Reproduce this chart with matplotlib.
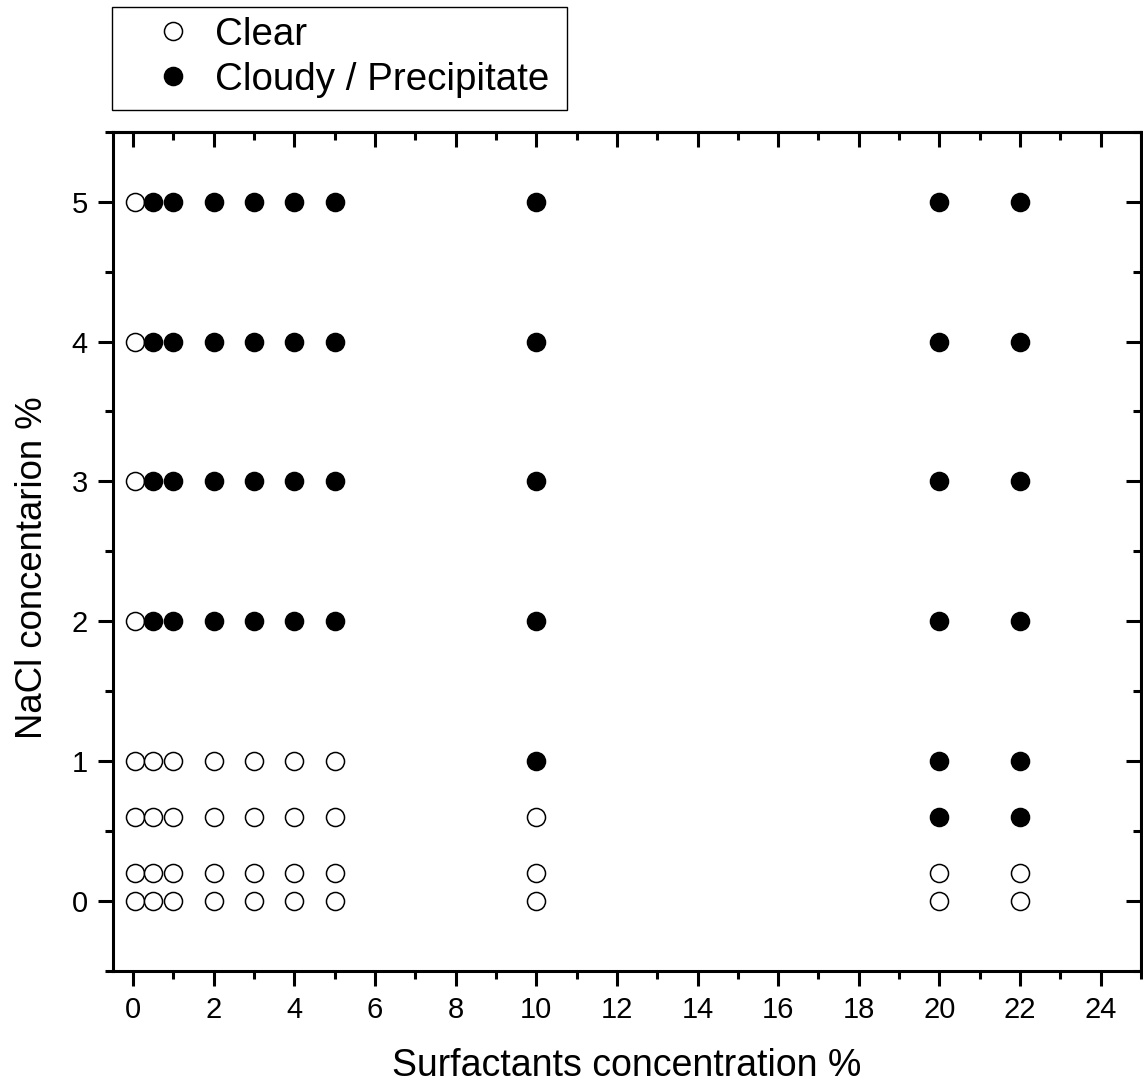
import matplotlib
matplotlib.use("Agg")
import matplotlib.pyplot as plt
from matplotlib.ticker import MultipleLocator
from matplotlib.patches import Rectangle

plt.rcParams['font.family'] = ['Liberation Sans', 'DejaVu Sans']

# Data: surfactant concentrations (x) and NaCl levels observed per state
surfactant = [0.05, 0.5, 1, 2, 3, 4, 5, 10, 20, 22]
clear_levels = [
    [0, 0.2, 0.6, 1, 2, 3, 4, 5],  # 0.05
    [0, 0.2, 0.6, 1],              # 0.5
    [0, 0.2, 0.6, 1],              # 1
    [0, 0.2, 0.6, 1],              # 2
    [0, 0.2, 0.6, 1],              # 3
    [0, 0.2, 0.6, 1],              # 4
    [0, 0.2, 0.6, 1],              # 5
    [0, 0.2, 0.6],                 # 10
    [0, 0.2],                      # 20
    [0, 0.2],                      # 22
]
cloudy_levels = [
    [],                            # 0.05
    [2, 3, 4, 5],                  # 0.5
    [2, 3, 4, 5],                  # 1
    [2, 3, 4, 5],                  # 2
    [2, 3, 4, 5],                  # 3
    [2, 3, 4, 5],                  # 4
    [2, 3, 4, 5],                  # 5
    [1, 2, 3, 4, 5],               # 10
    [0.6, 1, 2, 3, 4, 5],          # 20
    [0.6, 1, 2, 3, 4, 5],          # 22
]
x_ticks = [0, 2, 4, 6, 8, 10, 12, 14, 16, 18, 20, 22, 24]
y_ticks = [0, 1, 2, 3, 4, 5]

clear_x = [s for s, lv in zip(surfactant, clear_levels) for _ in lv]
clear_y = [v for lv in clear_levels for v in lv]
cloudy_x = [s for s, lv in zip(surfactant, cloudy_levels) for _ in lv]
cloudy_y = [v for lv in cloudy_levels for v in lv]

W, H = 1143, 1087
fig = plt.figure(figsize=(W / 100, H / 100), dpi=100)
ax = fig.add_axes([113 / W, 1 - 971 / H, (1141 - 113) / W, (971 - 131.7) / H])

ax.plot(clear_x, clear_y, linestyle='none', marker='o', ms=13,
        mfc='white', mec='black', mew=1.1, label='Clear', zorder=3)
ax.plot(cloudy_x, cloudy_y, linestyle='none', marker='o', ms=13,
        mfc='black', mec='black', mew=1.1, label='Cloudy / Precipitate', zorder=4)

ax.set_xlim(-0.5, 25)
ax.set_ylim(-0.5, 5.5)
ax.set_xticks(x_ticks)
ax.set_yticks(y_ticks)
ax.xaxis.set_minor_locator(MultipleLocator(1))
ax.yaxis.set_minor_locator(MultipleLocator(0.5))

for sp in ax.spines.values():
    sp.set_linewidth(2.2)

ax.tick_params(axis='both', which='major', length=11, width=2.2, labelsize=21, pad=7)
ax.tick_params(axis='both', which='minor', length=5.5, width=2.2)
ax.tick_params(axis='x', which='both', direction='out', bottom=True)
ax.tick_params(axis='y', which='both', direction='out', left=True)

# mirrored inward ticks on top and right
axt = ax.secondary_xaxis('top')
axt.set_xticks(x_ticks)
axt.xaxis.set_minor_locator(MultipleLocator(1))
axt.tick_params(which='major', direction='in', length=11, width=2.2, labeltop=False)
axt.tick_params(which='minor', direction='in', length=5.5, width=2.2)
axt.spines['top'].set_linewidth(2.2)
axr = ax.secondary_yaxis('right')
axr.set_yticks(y_ticks)
axr.yaxis.set_minor_locator(MultipleLocator(0.5))
axr.tick_params(which='major', direction='in', length=11, width=2.2, labelright=False)
axr.tick_params(which='minor', direction='in', length=5.5, width=2.2)
axr.spines['right'].set_linewidth(2.2)

ax.set_xlabel('Surfactants concentration %', fontsize=27)
ax.set_ylabel('NaCl concentarion %', fontsize=26.3)
ax.xaxis.set_label_coords(0.5, -0.1255)
ax.xaxis.label.set_va('baseline')
ax.yaxis.set_label_coords(-0.061, 0.48)

# legend (frameless) with a separate rectangular frame
leg = fig.legend(loc='upper left', bbox_to_anchor=(111.7 / W, 1 - 7.3 / H),
                 frameon=False, fontsize=27.7,
                 borderaxespad=0, borderpad=0.25, handlelength=2.69,
                 handletextpad=-0.25, labelspacing=0.23)
fig.patches.append(Rectangle((111.7 / W, 1 - 110 / H), (566.7 - 111.7) / W,
                             (110 - 7.3) / H, transform=fig.transFigure,
                             fill=False, edgecolor='black', linewidth=1.0))

fig.savefig('out.png', dpi=100)
